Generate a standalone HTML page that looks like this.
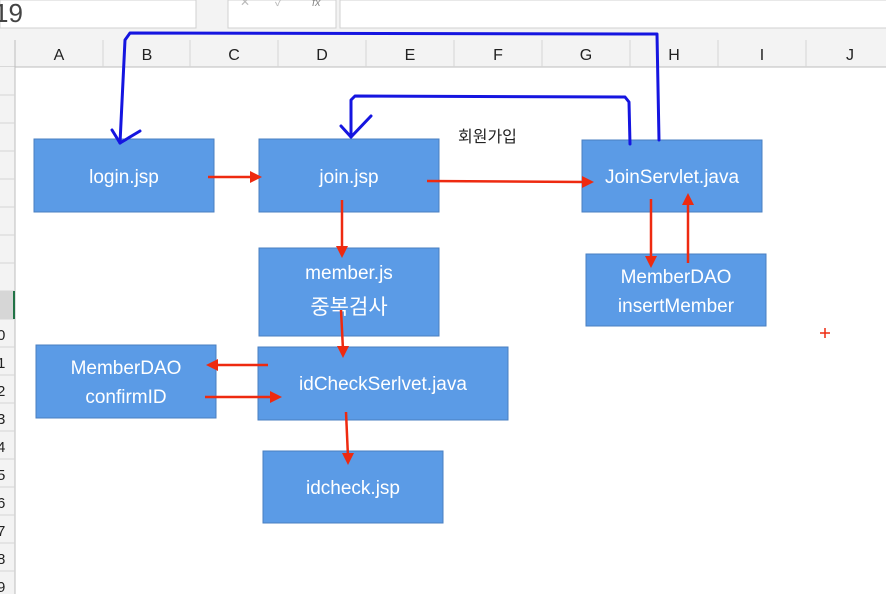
<!DOCTYPE html><html><head><style>body{margin:0;width:886px;height:594px;overflow:hidden;background:#fff;font-family:"Liberation Sans","Noto Sans CJK KR",sans-serif}</style></head><body>
<svg width="886" height="594" xmlns="http://www.w3.org/2000/svg" font-family="Liberation Sans, Noto Sans CJK KR, sans-serif">
<rect x="0" y="0" width="886" height="40" fill="#f3f3f3"/>
<rect x="0" y="0" width="196" height="28" fill="#fff" stroke="#d0d0d0"/>
<text x="-6" y="22" font-size="26" fill="#444">19</text>
<rect x="228" y="0" width="108" height="28" fill="#fff" stroke="#d0d0d0"/>
<rect x="340" y="0" width="560" height="28" fill="#fff" stroke="#d0d0d0"/>
<text x="240" y="6" font-size="12" fill="#bbb">✕</text><text x="275" y="6" font-size="12" fill="#bbb">✓</text><text x="312" y="6" font-size="11" fill="#888" font-style="italic">fx</text>
<rect x="0" y="40" width="886" height="27" fill="#f3f3f3"/>
<line x1="0" y1="67" x2="886" y2="67" stroke="#bdbdbd"/>
<rect x="0" y="67" width="15" height="527" fill="#f3f3f3"/>
<line x1="15" y1="40" x2="15" y2="594" stroke="#bdbdbd"/>
<g stroke="#d4d4d4">
<line x1="103" y1="40" x2="103" y2="67"/><line x1="190" y1="40" x2="190" y2="67"/><line x1="278" y1="40" x2="278" y2="67"/><line x1="366" y1="40" x2="366" y2="67"/><line x1="454" y1="40" x2="454" y2="67"/><line x1="542" y1="40" x2="542" y2="67"/><line x1="630" y1="40" x2="630" y2="67"/><line x1="718" y1="40" x2="718" y2="67"/><line x1="806" y1="40" x2="806" y2="67"/>
<line x1="0" y1="95" x2="15" y2="95"/><line x1="0" y1="123" x2="15" y2="123"/><line x1="0" y1="151" x2="15" y2="151"/><line x1="0" y1="179" x2="15" y2="179"/><line x1="0" y1="207" x2="15" y2="207"/><line x1="0" y1="235" x2="15" y2="235"/><line x1="0" y1="263" x2="15" y2="263"/><line x1="0" y1="291" x2="15" y2="291"/><line x1="0" y1="319" x2="15" y2="319"/><line x1="0" y1="347" x2="15" y2="347"/><line x1="0" y1="375" x2="15" y2="375"/><line x1="0" y1="403" x2="15" y2="403"/><line x1="0" y1="431" x2="15" y2="431"/><line x1="0" y1="459" x2="15" y2="459"/><line x1="0" y1="487" x2="15" y2="487"/><line x1="0" y1="515" x2="15" y2="515"/><line x1="0" y1="543" x2="15" y2="543"/><line x1="0" y1="571" x2="15" y2="571"/>
</g>
<rect x="0" y="291" width="15" height="28" fill="#d6d6d6"/><line x1="14" y1="291" x2="14" y2="319" stroke="#217346" stroke-width="2"/>
<g font-size="16" fill="#222" text-anchor="middle">
<text x="59" y="60">A</text><text x="147" y="60">B</text><text x="234" y="60">C</text><text x="322" y="60">D</text><text x="410" y="60">E</text><text x="498" y="60">F</text><text x="586" y="60">G</text><text x="674" y="60">H</text><text x="762" y="60">I</text><text x="850" y="60">J</text>
</g>
<g font-size="15" fill="#222">
<text x="-3" y="340">0</text><text x="-3" y="368">1</text><text x="-3" y="396">2</text><text x="-3" y="424">3</text><text x="-3" y="452">4</text><text x="-3" y="480">5</text><text x="-3" y="508">6</text><text x="-3" y="536">7</text><text x="-3" y="564">8</text><text x="-3" y="592">9</text>
</g>
<g fill="#5b9be6" stroke="#4a7fc0" stroke-width="1">
<rect x="34" y="139" width="180" height="73"/>
<rect x="259" y="139" width="180" height="73"/>
<rect x="582" y="140" width="180" height="72"/>
<rect x="259" y="248" width="180" height="88"/>
<rect x="586" y="254" width="180" height="72"/>
<rect x="36" y="345" width="180" height="73"/>
<rect x="258" y="347" width="250" height="73"/>
<rect x="263" y="451" width="180" height="72"/>
</g>
<g fill="#fff" font-size="19" text-anchor="middle">
<text x="124" y="183">login.jsp</text>
<text x="349" y="183">join.jsp</text>
<text x="672" y="183">JoinServlet.java</text>
<text x="349" y="279">member.js</text>
<text x="349" y="314" font-size="21">중복검사</text>
<text x="676" y="283">MemberDAO</text>
<text x="676" y="312">insertMember</text>
<text x="126" y="374">MemberDAO</text>
<text x="126" y="403">confirmID</text>
<text x="383" y="390">idCheckSerlvet.java</text>
<text x="353" y="494">idcheck.jsp</text>
</g>
<text x="458" y="142" font-size="16" fill="#222">회원가입</text>
<g stroke="#1515e0" stroke-width="3" fill="none" stroke-linecap="round" stroke-linejoin="round">
<path d="M659 140 L657 34 L130 33 L125 40 L120 143"/>
<path d="M112 130 L120 143 L140 131"/>
<path d="M630 144 L629 102 L625 97 L355 96 L351 100 L351 137"/>
<path d="M341 126 L351 137 L371 116"/>
</g>
<g stroke="#ee2a10" stroke-width="2.5" fill="none">
<line x1="208" y1="177" x2="252" y2="177"/>
<line x1="427" y1="181" x2="584" y2="182"/>
<line x1="342" y1="200" x2="342" y2="250"/>
<line x1="651" y1="199" x2="651" y2="260"/>
<line x1="688" y1="263" x2="688" y2="203"/>
<line x1="341" y1="310" x2="343" y2="350"/>
<line x1="268" y1="365" x2="216" y2="365"/>
<line x1="205" y1="397" x2="272" y2="397"/>
<line x1="346" y1="412" x2="348" y2="457"/>
</g>
<g fill="#ee2a10">
<polygon points="262,177 250,171 250,183"/>
<polygon points="594,182 582,176 582,188"/>
<polygon points="342,258 336,246 348,246"/>
<polygon points="651,268 645,256 657,256"/>
<polygon points="688,193 682,205 694,205"/>
<polygon points="343,358 337,346 349,346"/>
<polygon points="206,365 218,359 218,371"/>
<polygon points="282,397 270,391 270,403"/>
<polygon points="348,465 342,453 354,453"/>
</g>
<g stroke="#ee2a10" stroke-width="1.5"><line x1="820" y1="333" x2="830" y2="333"/><line x1="825" y1="328" x2="825" y2="338"/></g>
</svg></body></html>
